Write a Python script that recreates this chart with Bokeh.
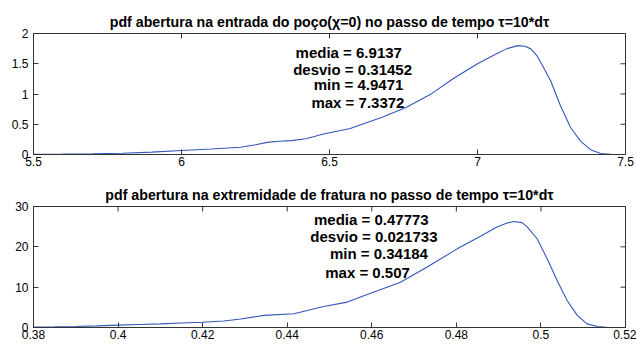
import math
from bokeh.plotting import figure
from bokeh.layouts import column
from bokeh.models import Range1d, FixedTicker, Label
from bokeh.embed import file_html
from bokeh.resources import INLINE

# ---------------- data ----------------
title_top = "pdf abertura na entrada do poço(χ=0) no passo de tempo τ=10*dτ"
title_bot = "pdf abertura na extremidade de fratura no passo de tempo τ=10*dτ"

x_top = [5.50, 5.60, 5.70, 5.80, 5.90, 6.00, 6.10, 6.20, 6.25, 6.29, 6.33, 6.37, 6.42,
         6.48, 6.57, 6.68, 6.76, 6.84, 6.92, 7.00, 7.066, 7.10, 7.136, 7.16, 7.179,
         7.20, 7.213, 7.247, 7.28, 7.314, 7.348, 7.382, 7.416, 7.45, 7.49]
y_top = [0.003, 0.006, 0.012, 0.02, 0.04, 0.066, 0.09, 0.12, 0.16, 0.20, 0.22, 0.23, 0.26,
         0.34, 0.43, 0.62, 0.78, 0.99, 1.26, 1.50, 1.67, 1.75, 1.80, 1.79, 1.75,
         1.64, 1.53, 1.22, 0.81, 0.45, 0.22, 0.08, 0.015, 0.003, 0.0]

x_bot = [0.380, 0.385, 0.390, 0.395, 0.400, 0.405, 0.410, 0.415, 0.420, 0.425, 0.429,
         0.4345, 0.4416, 0.4486, 0.4542, 0.4605, 0.4668, 0.4731, 0.4802, 0.4857, 0.4896,
         0.4920, 0.4936, 0.4955, 0.4967, 0.4991, 0.5015, 0.5038, 0.5062, 0.5086, 0.5109,
         0.5133, 0.5155, 0.5176]
y_bot = [0.1, 0.15, 0.25, 0.4, 0.6, 0.75, 0.9, 1.1, 1.3, 1.6, 2.1,
         3.0, 3.4, 5.2, 6.3, 8.8, 11.2, 15.0, 19.5, 22.6, 24.9,
         25.9, 26.3, 26.0, 25.0, 22.0, 17.0, 11.7, 6.7, 3.0, 0.9,
         0.25, 0.05, 0.0]

xticks_top = [5.5, 6, 6.5, 7, 7.5]
xlabels_top = ["5.5", "6", "6.5", "7", "7.5"]
yticks_top = [0, 0.5, 1, 1.5, 2]
ylabels_top = ["0", "0.5", "1", "1.5", "2"]

xticks_bot = [0.38, 0.40, 0.42, 0.44, 0.46, 0.48, 0.50, 0.52]
xlabels_bot = ["0.38", "0.4", "0.42", "0.44", "0.46", "0.48", "0.5", "0.52"]
yticks_bot = [0, 10, 20, 30]
ylabels_bot = ["0", "10", "20", "30"]

stats_top = ["media = 6.9137", "desvio = 0.31452", "min = 4.9471", "max = 7.3372"]
stats_bot = ["media = 0.47773", "desvio = 0.021733", "min = 0.34184", "max = 0.507"]

FONT = "Liberation Sans"
LINE = "#3456bc"
AX = "#333333"


def make_fig(title, xr, yr, xt, xl, yt, yl, height, border_top, border_bottom):
    p = figure(output_backend="svg", toolbar_location=None,
               width=636, height=height,
               x_range=Range1d(*xr), y_range=Range1d(*yr),
               min_border_left=33, min_border_right=11,
               min_border_top=border_top, min_border_bottom=border_bottom,
               background_fill_color="white", border_fill_color="white")
    p.grid.visible = False
    p.outline_line_color = AX
    p.outline_line_width = 1
    p.title.text = title
    p.title.text_font = FONT
    p.title.text_font_size = "14.2px"
    p.title.text_font_style = "bold"
    p.title.text_color = "black"
    p.title.align = "center"
    p.title.standoff = 7

    for ax, ticks, labels in ((p.xaxis[0], xt, xl), (p.yaxis[0], yt, yl)):
        ax.ticker = FixedTicker(ticks=ticks)
        ax.major_label_overrides = {t: s for t, s in zip(ticks, labels)}
        ax.major_label_text_font = FONT
        ax.major_label_text_font_size = "12px"
        ax.major_label_text_color = "black"
        ax.major_tick_in = 5
        ax.major_tick_out = 0
        ax.minor_tick_line_color = None
        ax.axis_line_color = AX
        ax.major_tick_line_color = AX
    p.xaxis[0].major_label_standoff = 2
    p.yaxis[0].major_label_standoff = 5

    # inward ticks on the top and right edges of the box (half of each dash is clipped)
    p.scatter(x=xt, y=[yr[1]] * len(xt), marker="dash", angle=math.pi / 2,
              size=10, line_color=AX, line_width=1)
    p.scatter(x=[xr[1]] * len(yt), y=yt, marker="dash", size=10,
              line_color=AX, line_width=1)
    return p


p1 = make_fig(title_top, (5.5, 7.5), (0, 2), xticks_top, xlabels_top,
              yticks_top, ylabels_top, 180, 33, 26)
p1.line(x_top, y_top, line_color=LINE, line_width=1.1)
for txt, (lx, ly) in zip(stats_top, [(6.565, 1.68), (6.578, 1.40),
                                     (6.598, 1.165), (6.596, 0.86)]):
    p1.add_layout(Label(x=lx, y=ly, text=txt, text_font=FONT, text_font_size="15px",
                        text_font_style="bold", text_align="center",
                        text_baseline="middle", text_color="black"))

p2 = make_fig(title_bot, (0.38, 0.52), (0, 30), xticks_bot, xlabels_bot,
              yticks_bot, ylabels_bot, 163, 26, 16)
p2.line(x_bot, y_bot, line_color=LINE, line_width=1.1)
for txt, (lx, ly) in zip(stats_bot, [(0.4599, 26.78), (0.4605, 22.56),
                                     (0.4617, 18.27), (0.4590, 13.71)]):
    p2.add_layout(Label(x=lx, y=ly, text=txt, text_font=FONT, text_font_size="15px",
                        text_font_style="bold", text_align="center",
                        text_baseline="middle", text_color="black"))

layout = column(p1, p2)
open("out.html", "w").write(file_html(layout, INLINE))
